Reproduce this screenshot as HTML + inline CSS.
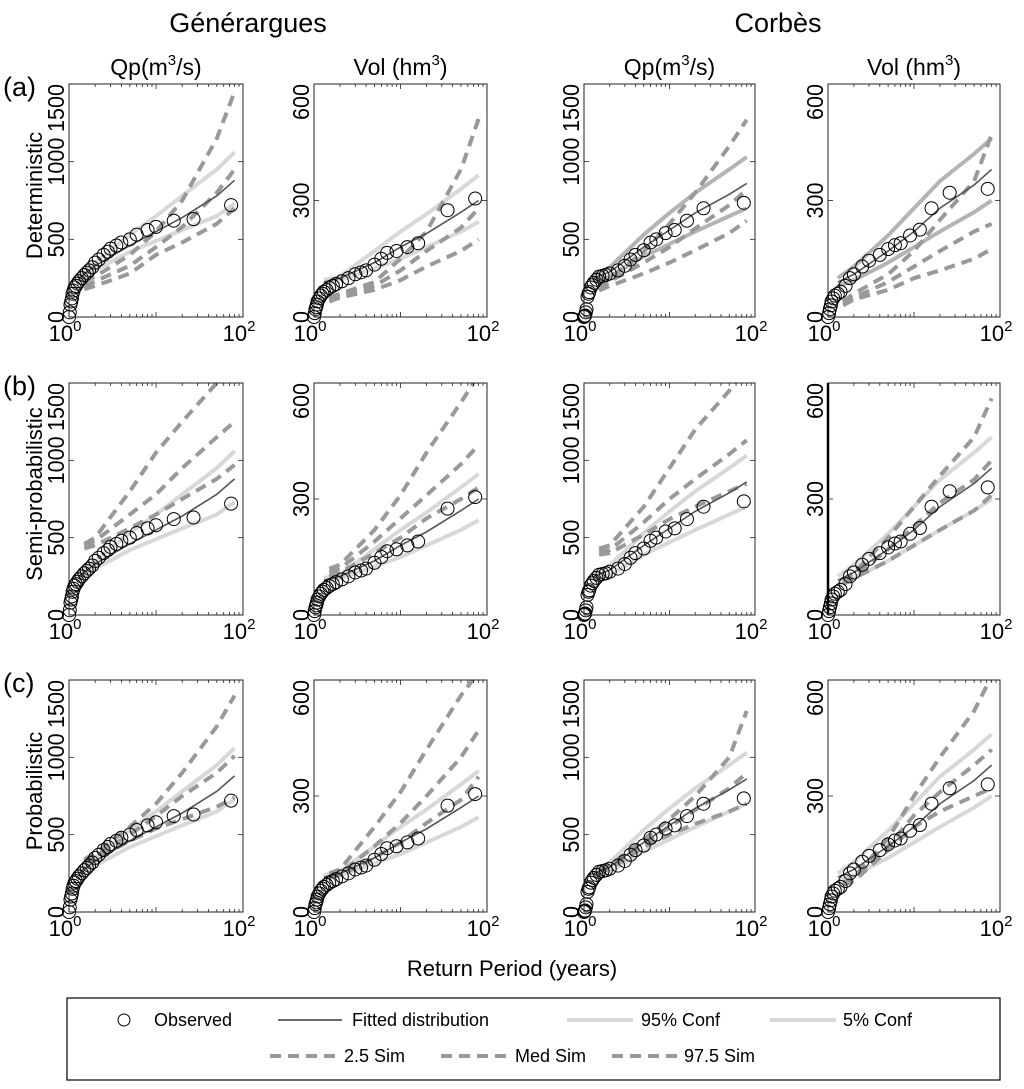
<!DOCTYPE html>
<html><head><meta charset="utf-8">
<style>
html,body{margin:0;padding:0;background:#fff;}
svg{display:block;font-family:"Liberation Sans",Arial,sans-serif;}
</style></head>
<body>
<svg id="fig" width="1024" height="1089" viewBox="0 0 1024 1089" xmlns="http://www.w3.org/2000/svg">
  <text x="248" y="32" font-size="27" text-anchor="middle">Générargues</text>
  <text x="778" y="32" font-size="27" text-anchor="middle">Corbès</text>
  <text x="512" y="976" font-size="22" text-anchor="middle">Return Period (years)</text>
  <g id="panels"></g>
  <g>
    <rect x="67" y="998" width="933" height="82" fill="#fff" stroke="#000" stroke-width="1.2"/>
    <g><circle cx="124" cy="1020" r="6" fill="none" stroke="#000" stroke-width="1"/><text x="154" y="1026" font-size="18">Observed</text></g>
    <g><line x1="278" y1="1020" x2="342" y2="1020" stroke="#555" stroke-width="1.8"/><text x="352" y="1026" font-size="18">Fitted distribution</text></g>
    <g><line x1="567" y1="1020" x2="633" y2="1020" stroke="#d8d8d8" stroke-width="4"/><text x="641" y="1026" font-size="18">95% Conf</text></g>
    <g><line x1="770" y1="1020" x2="836" y2="1020" stroke="#d8d8d8" stroke-width="4"/><text x="843" y="1026" font-size="18">5% Conf</text></g>
    <g><line x1="270" y1="1056" x2="336" y2="1056" stroke="#999" stroke-width="4" stroke-dasharray="11,7"/><text x="344" y="1062" font-size="18">2.5 Sim</text></g>
    <g><line x1="441" y1="1056" x2="507" y2="1056" stroke="#999" stroke-width="4" stroke-dasharray="11,7"/><text x="515" y="1062" font-size="18">Med Sim</text></g>
    <g><line x1="612" y1="1056" x2="678" y2="1056" stroke="#999" stroke-width="4" stroke-dasharray="11,7"/><text x="684" y="1062" font-size="18">97.5 Sim</text></g>
  </g>
</svg>
<script>
// ---- data (return periods T, values) ----
const simT = [1.5, 2, 5, 10, 20, 50, 80];
const fitT = [1.3, 2, 5, 10, 20, 50, 80];
// Observed
const obsGenQpT = [1,1.02,1.04,1.06,1.08,1.1,1.13,1.16,1.2,1.25,1.3,1.4,1.5,1.6,1.7,1.85,2,2.2,2.5,2.8,3,3.5,4,5,6,8,10,16,27,73];
const obsGenQpV = [0,30,80,100,120,150,170,190,200,215,230,250,270,285,300,320,350,370,400,420,440,460,480,500,530,560,580,620,630,720];
const obsGenVolT = [1,1.02,1.04,1.06,1.08,1.1,1.15,1.2,1.25,1.3,1.4,1.5,1.65,1.8,2.1,2.5,3,3.5,4,5,6,7,9,12,16,35,73];
const obsGenVolV = [0,10,20,25,32,40,48,55,60,65,70,75,80,85,92,100,110,115,120,135,150,165,170,180,190,275,305];
const obsCorQpT = [1,1.02,1.03,1.05,1.07,1.1,1.13,1.15,1.2,1.25,1.3,1.4,1.5,1.65,1.8,2,2.5,3,3.5,4,5,6,7,9,11.5,16,25,74];
const obsCorQpV = [0,5,10,30,50,130,150,160,190,205,220,240,260,265,270,280,300,330,370,400,430,480,500,540,560,620,700,735];
const obsCorVolT = [1,1.03,1.05,1.08,1.1,1.15,1.2,1.3,1.4,1.6,1.8,2,2.5,3,4,5,6,7,9,11.7,16,26,72];
const obsCorVolV = [0,10,20,30,40,48,55,60,65,80,100,110,130,145,160,175,185,190,210,225,280,320,330];
// Fitted and confidence
const fitGenQp = [250,330,460,550,640,780,880];
const c95GenQp = [260,350,530,650,780,950,1060];
const c5GenQp  = [240,300,420,490,560,650,730];
const fitGenVol = [90,100,140,180,215,270,300];
const c95GenVol = [95,105,170,220,265,330,365];
const c5GenVol  = [85,95,125,150,180,220,245];
const fitCorQp = [250,290,450,560,670,790,860];
const c95CorQp = [270,320,530,670,800,950,1030];
const c5CorQp  = [230,260,390,470,550,650,700];
const fitCorVol = [90,110,170,220,280,340,380];
const c95CorVol = [100,130,210,280,350,420,460];
const c5CorVol  = [80,95,140,180,220,270,300];
// Simulations: row a (deterministic)
const aGenQpHi = [230,260,400,550,750,1150,1450];
const aGenQpMd = [200,230,330,450,580,800,950];
const aGenQpLo = [180,200,280,400,480,600,700];
const aGenVolHi = [50,60,90,150,220,380,510];
const aGenVolMd = [45,55,80,120,170,230,280];
const aGenVolLo = [40,50,70,95,130,170,200];
const aCorQpHi = [200,250,420,600,800,1100,1270];
const aCorQpMd = [180,230,350,450,570,720,820];
const aCorQpLo = [170,200,280,350,430,540,620];
const aCorVolHi = [40,60,110,170,250,350,470];
const aCorVolMd = [35,50,90,130,170,220,240];
const aCorVolLo = [30,45,70,100,120,150,175];
// row b (semi-probabilistic)
const bGenQpHi = [460,500,800,1050,1250,1500,1650];
const bGenQpMd = [450,480,650,780,950,1150,1250];
const bGenQpLo = [430,450,560,650,750,880,970];
const bGenVolHi = [120,130,220,310,420,550,620];
const bGenVolMd = [110,120,190,250,310,390,440];
const bGenVolLo = [100,110,160,200,250,300,330];
const bCorQpHi = [430,450,700,950,1200,1450,1600];
const bCorQpMd = [410,420,600,750,880,1040,1130];
const bCorQpLo = [390,400,520,620,700,800,850];
const bCorVolHi = [90,110,200,280,360,460,560];
const bCorVolMd = [85,100,170,230,290,350,400];
const bCorVolLo = [80,95,140,180,220,270,310];
// row c (probabilistic)
const cGenQpHi = [340,380,550,700,900,1200,1400];
const cGenQpMd = [330,360,500,620,750,900,1010];
const cGenQpLo = [320,340,460,540,600,680,740];
const cGenVolHi = [100,110,220,310,420,560,620];
const cGenVolMd = [95,100,170,230,300,400,470];
const cGenVolLo = [90,95,140,180,230,290,350];
const cCorQpHi = [270,300,470,600,750,1000,1300];
const cCorQpMd = [260,290,440,550,660,800,900];
const cCorQpLo = [250,280,420,500,570,650,700];
const cCorVolHi = [75,90,190,300,400,520,610];
const cCorVolMd = [72,85,170,250,310,380,420];
const cCorVolLo = [70,80,160,220,260,300,320];

const yMaxQp = 1500, yMaxVol = 600;
const qpTicks = [0,500,1000,1500];
const volTicks = [0,300,600];

const colX = [[69,243],[314,487],[584,755],[828,1000]];
const rowY = [[84,317],[383,615],[680,912]];
const rowLabels = ["(a)","(b)","(c)"];
const rowNames = ["Deterministic","Semi-probabilistic","Probabilistic"];

const cols = [
  {key:"gen-qp", max:yMaxQp, ticks:qpTicks, obsT:obsGenQpT, obsV:obsGenQpV, fit:fitGenQp, c95:c95GenQp, c5:c5GenQp,
   sims:[[aGenQpHi,aGenQpMd,aGenQpLo],[bGenQpHi,bGenQpMd,bGenQpLo],[cGenQpHi,cGenQpMd,cGenQpLo]], title:"Qp(m", sup:"3", tail:"/s)"},
  {key:"gen-vol", max:yMaxVol, ticks:volTicks, obsT:obsGenVolT, obsV:obsGenVolV, fit:fitGenVol, c95:c95GenVol, c5:c5GenVol,
   sims:[[aGenVolHi,aGenVolMd,aGenVolLo],[bGenVolHi,bGenVolMd,bGenVolLo],[cGenVolHi,cGenVolMd,cGenVolLo]], title:"Vol (hm", sup:"3", tail:")"},
  {key:"cor-qp", max:yMaxQp, ticks:qpTicks, obsT:obsCorQpT, obsV:obsCorQpV, fit:fitCorQp, c95:c95CorQp, c5:c5CorQp,
   sims:[[aCorQpHi,aCorQpMd,aCorQpLo],[bCorQpHi,bCorQpMd,bCorQpLo],[cCorQpHi,cCorQpMd,cCorQpLo]], title:"Qp(m", sup:"3", tail:"/s)"},
  {key:"cor-vol", max:yMaxVol, ticks:volTicks, obsT:obsCorVolT, obsV:obsCorVolV, fit:fitCorVol, c95:c95CorVol, c5:c5CorVol,
   sims:[[aCorVolHi,aCorVolMd,aCorVolLo],[bCorVolHi,bCorVolMd,bCorVolLo],[cCorVolHi,cCorVolMd,cCorVolLo]], title:"Vol (hm", sup:"3", tail:")"}
];

const NS = "http://www.w3.org/2000/svg";
const root = document.getElementById("panels");
function mk(tag, attrs, parent){
  const e = document.createElementNS(NS, tag);
  for (const k in attrs) e.setAttribute(k, attrs[k]);
  parent.appendChild(e);
  return e;
}

cols.forEach((c, ci) => {
  const [x0, x1] = colX[ci];
  const st = mk("text", {x:(x0+x1)/2, y:75, "font-size":23, "text-anchor":"middle"}, root);
  
  
  st.appendChild(document.createTextNode(c.title));
  const sp = mk("tspan", {"font-size":15, dy:-10}, st); sp.textContent = c.sup;
  const tl = mk("tspan", {dy:10}, st); tl.textContent = c.tail;

  rowY.forEach(([y0, y1], ri) => {
    const g = mk("g", {}, root);
    
    
    const xs = t => x0 + (Math.log10(t) / 2) * (x1 - x0);
    const ys = v => y1 - (v / c.max) * (y1 - y0);
    const clip = "clip-" + ci + "-" + ri;
    const cp = mk("clipPath", {id:clip}, g);
    mk("rect", {x:x0-8, y:y0, width:x1-x0+8, height:y1-y0+8}, cp);
    const plot = mk("g", {"clip-path":"url(#"+clip+")"}, g);
    const line = (T, V, attrs, name) => {
      const p = mk("polyline", Object.assign({points:T.map((t,i)=>xs(t)+","+ys(V[i])).join(" "), fill:"none"}, attrs), plot);
      
      
    };
    const confCol = (ri === 0 && ci >= 2) ? "#b4b4b4" : "#d8d8d8";
    line(fitT, c.c95, {stroke:confCol, "stroke-width":4}, "conf95-line");
    line(fitT, c.c5, {stroke:confCol, "stroke-width":4}, "conf5-line");
    const sims = c.sims[ri];
    const simNames = ["sim-97-5-line","sim-med-line","sim-2-5-line"];
    sims.forEach((s, si) => line(simT, s, {stroke:"#999", "stroke-width":4, "stroke-dasharray":"11,7"}, simNames[si]));
    line(fitT, c.fit, {stroke:"#555", "stroke-width":1.6}, "fitted-line");
    c.obsT.forEach((t, i) => {
      const o = mk("circle", {cx:xs(t), cy:ys(c.obsV[i]), r:6.5, fill:"none", stroke:"#000", "stroke-width":1}, plot);
      
      
    });
    const box = mk("rect", {x:x0, y:y0, width:x1-x0, height:y1-y0, fill:"none", stroke:"#222", "stroke-width":1}, g);
    
    
    if (ri === 1 && ci === 3) mk("line", {x1:x0, y1:y0, x2:x0, y2:y1, stroke:"#000", "stroke-width":2.5}, g);
    for (let d = 0; d < 2; d++) for (let m = 1; m <= 9; m++) {
      const t = m * Math.pow(10, d); const x = xs(t);
      const len = m === 1 ? 5 : 3;
      mk("line", {x1:x, y1:y1, x2:x, y2:y1-len, stroke:"#222", "stroke-width":0.8}, g);
      mk("line", {x1:x, y1:y0, x2:x, y2:y0+len, stroke:"#222", "stroke-width":0.8}, g);
    }
    c.ticks.forEach(v => {
      const y = ys(v);
      mk("line", {x1:x0, y1:y, x2:x0+5, y2:y, stroke:"#222", "stroke-width":0.8}, g);
      mk("line", {x1:x1, y1:y, x2:x1-5, y2:y, stroke:"#222", "stroke-width":0.8}, g);
      const s = String(v);
      const tx = mk("text", {x:0, y:0, "font-size":23, "text-anchor":v===c.max?"end":"middle",
        textLength: s.length * 12, lengthAdjust:"spacingAndGlyphs",
        transform:"translate("+(x0-5)+","+y+") rotate(-90)"}, g);
      
      
      tx.textContent = s;
    });
    [[1,"0"],[100,"2"]].forEach(([t, e]) => {
      const tx = mk("text", {x:xs(t)-4, y:y1+24, "font-size":22, "text-anchor":"middle"}, g);
      
      
      tx.appendChild(document.createTextNode("10"));
      const s2 = mk("tspan", {"font-size":15, dy:-10}, tx); s2.textContent = e;
    });
    if (ci === 0) {
      const rl = mk("text", {x:3, y:y0+12, "font-size":27}, root);
      
      
      rl.textContent = rowLabels[ri];
      const yn = mk("text", {x:0, y:0, "font-size":22, "text-anchor":"middle",
        transform:"translate(42,"+((y0+y1)/2-5)+") rotate(-90)"}, root);
      
      
      yn.textContent = rowNames[ri];
    }
  });
});
</script>
</body></html>
